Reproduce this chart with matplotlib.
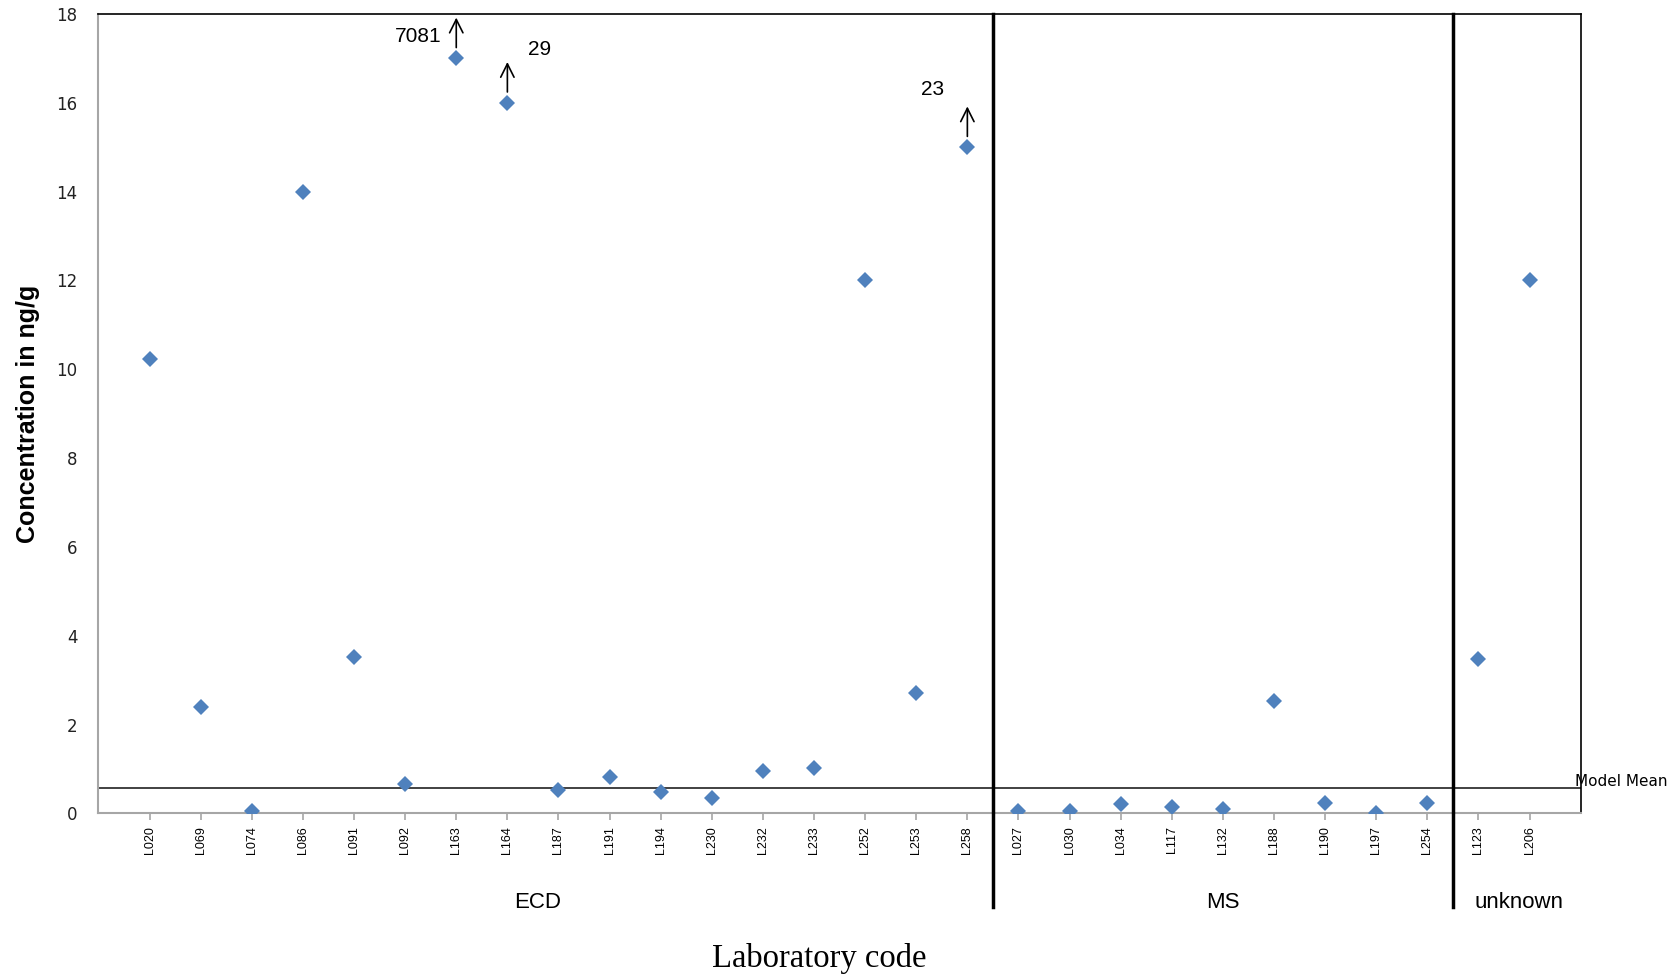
import matplotlib
matplotlib.use("Agg")
import matplotlib.pyplot as plt
import matplotlib.transforms as mtransforms

# concentrations (ng/g) per laboratory, grouped by detection method
ecd_labs = ["L020", "L069", "L074", "L086", "L091", "L092", "L163", "L164", "L187",
            "L191", "L194", "L230", "L232", "L233", "L252", "L253", "L258"]
ecd_vals = [10.22, 2.39, 0.06, 14.0, 3.52, 0.66, 17.0, 16.0, 0.53,
            0.81, 0.48, 0.34, 0.95, 1.02, 12.0, 2.70, 15.0]

ms_labs = ["L027", "L030", "L034", "L117", "L132", "L188", "L190", "L197", "L254"]
ms_vals = [0.05, 0.05, 0.21, 0.135, 0.10, 2.53, 0.24, 0.0, 0.24]

unk_labs = ["L123", "L206"]
unk_vals = [3.47, 12.0]

group_names = ["ECD", "MS", "unknown"]
model_mean = 0.565

# results off the scale: lab, reported value
offscale_labs = ["L163", "L164", "L258"]
offscale_text = ["7081", "29", "23"]

plt.rcParams["font.family"] = ["Liberation Sans", "DejaVu Sans"]

labs = ecd_labs + ms_labs + unk_labs
vals = ecd_vals + ms_vals + unk_vals
xpos = list(range(1, len(labs) + 1))

fig = plt.figure(figsize=(16.78, 9.74), dpi=100)
ax = fig.add_axes([0.0587, 0.1649, 0.8833, 0.8208])

ax.plot(xpos, vals, linestyle="none", marker="D", ms=8.5, color="#4F81BD",
        markeredgewidth=0, zorder=3)

ax.set_xlim(0, len(labs) + 1)
ax.set_ylim(0, 18)
ax.set_yticks(range(0, 19, 2))
ax.set_xticks(xpos)
ax.set_xticklabels(labs, rotation=90, fontsize=9, va="top")
for t in ax.get_yticklabels():
    t.set_fontfamily("DejaVu Sans")
    t.set_fontsize(12)
    t.set_color("#222222")

ax.tick_params(axis="x", direction="out", length=5, width=1.2, color="#A6A6A6", pad=4)
ax.tick_params(axis="y", length=0, pad=15)

for s in ["left", "bottom"]:
    ax.spines[s].set_color("#A6A6A6")
    ax.spines[s].set_linewidth(1.5)
for s in ["top", "right"]:
    ax.spines[s].set_color("black")
    ax.spines[s].set_linewidth(1.2)

# model mean line
ax.axhline(model_mean, color="#333333", lw=1.3, zorder=2)
ax.text(28.88, model_mean - 0.02, "Model Mean", fontsize=11, family="DejaVu Sans",
        ha="left", va="bottom", clip_on=False)

# group separators and group names
trans = mtransforms.blended_transform_factory(ax.transData, ax.transAxes)
n1 = len(ecd_labs)
n2 = n1 + len(ms_labs)
for b in [n1 + 0.5, n2 + 0.5]:
    ax.plot([b, b], [-0.117, 1], color="black", lw=2.5, transform=trans,
            clip_on=False, zorder=4)
for name, xc in zip(group_names, [8.6, 22.0, 27.8]):
    ax.text(xc, -0.111, name, transform=trans, ha="center", va="center", fontsize=16)

# arrows for off-scale values
text_offsets = [(-0.28, 0.5, "right"), (0.4, 1.2, "left"), (-0.45, 1.3, "right")]
for lab, txt, (dx, dy, ha) in zip(offscale_labs, offscale_text, text_offsets):
    i = labs.index(lab)
    x, v = xpos[i], vals[i]
    ax.annotate("", xy=(x, v + 0.98), xytext=(x, v + 0.18),
                arrowprops=dict(arrowstyle="->", color="black", lw=1.2,
                                mutation_scale=24),
                annotation_clip=False)
    ax.text(x + dx, v + dy, txt, ha=ha, va="center", fontsize=15)

fig.text(0.0165, 0.575, "Concentration in ng/g", rotation=90, ha="center",
         va="center", fontsize=18, fontweight="bold")
fig.text(0.488, 0.016, "Laboratory code", ha="center", va="center",
         fontsize=23.5, family=["Liberation Serif", "DejaVu Serif"])

fig.savefig("out.png", dpi=100)
